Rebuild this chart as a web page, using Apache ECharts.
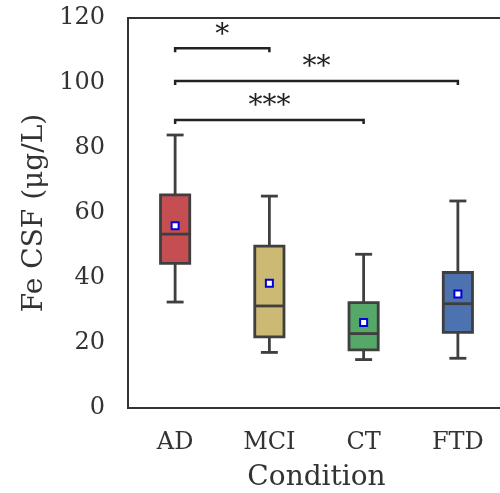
<!DOCTYPE html>
<html>
<head>
<meta charset="utf-8">
<script src="https://cdn.jsdelivr.net/npm/echarts@6/dist/echarts.min.js"></script>
<style>
  html, body { margin: 0; padding: 0; background: #fff; }
  #box { width: 500px; height: 493px; }
</style>
</head>
<body>
<div id="box"></div>
<script>
// data
var conditions = ['AD', 'MCI', 'CT', 'FTD'];
var whiskerLow = [32.6, 17.1, 14.9, 15.3];
var q1 = [44.5, 21.9, 17.9, 23.3];
var median = [53.5, 31.4, 22.9, 32.1];
var q3 = [65.6, 49.8, 32.4, 41.7];
var whiskerHigh = [84.0, 65.2, 47.3, 63.7];
var means = [56.1, 38.4, 26.3, 35.1];
var boxColors = ['#C44E52', '#CCB974', '#55A868', '#4C72B0'];

// significance brackets: from, to, height, stars
var bracketFrom = [0, 0, 0];
var bracketTo = [1, 3, 2];
var bracketY = [110.7, 100.6, 88.6];
var bracketText = ['*', '**', '***'];

var yTicks = [0, 20, 40, 60, 80, 100, 120];

var serif = 'DejaVu Serif';
var edge = '#3f3f3f';

var boxData = conditions.map(function(c, i) {
    return [i, whiskerLow[i], q1[i], median[i], q3[i], whiskerHigh[i]];
});
var meanData = conditions.map(function(c, i) { return [i, means[i]]; });
var bracketData = bracketY.map(function(y, i) {
    return [bracketFrom[i], bracketTo[i], y, bracketText[i]];
});

var dom = document.getElementById('box');
var chart = echarts.init(dom);

var option = {
    animation: false,
    grid: {
        left: 128, top: 18, width: 377, height: 390,
        outerBoundsMode: 'none',
        show: true, borderColor: '#333', borderWidth: 2, backgroundColor: '#fff'
    },
    xAxis: {
        type: 'category',
        data: conditions,
        axisLine: { lineStyle: { color: '#333', width: 2 } },
        axisTick: { show: false },
        axisLabel: { fontFamily: serif, fontSize: 24, color: '#333', margin: 23 },
        name: 'Condition',
        nameLocation: 'middle',
        nameGap: 56,
        nameTextStyle: { fontFamily: serif, fontSize: 28, color: '#333' }
    },
    yAxis: {
        type: 'value',
        min: yTicks[0], max: yTicks[yTicks.length - 1], interval: 20,
        splitLine: { show: false },
        axisLine: { show: true, lineStyle: { color: '#333', width: 2 } },
        axisTick: { show: false },
        axisLabel: { fontFamily: serif, fontSize: 24, color: '#333', margin: 23 },
        name: 'Fe CSF (μg/L)',
        nameLocation: 'middle',
        nameGap: 79,
        nameTextStyle: { fontFamily: serif, fontSize: 28, color: '#333' }
    },
    series: [
        {
            type: 'custom',
            data: boxData,
            renderItem: function(params, api) {
                var i = api.value(0);
                var band = api.size([1, 0])[0];
                var half = band * 0.155;
                var cap = band * 0.09;
                var lo = api.coord([i, api.value(1)]);
                var b1 = api.coord([i, api.value(2)]);
                var md = api.coord([i, api.value(3)]);
                var b3 = api.coord([i, api.value(4)]);
                var hi = api.coord([i, api.value(5)]);
                var x = lo[0];
                var ls = { stroke: edge, lineWidth: 2.8 };
                return {
                    type: 'group',
                    children: [
                        { type: 'line', shape: { x1: x, y1: hi[1], x2: x, y2: b3[1] }, style: ls },
                        { type: 'line', shape: { x1: x, y1: b1[1], x2: x, y2: lo[1] }, style: ls },
                        { type: 'line', shape: { x1: x - cap, y1: hi[1], x2: x + cap, y2: hi[1] }, style: ls },
                        { type: 'line', shape: { x1: x - cap, y1: lo[1], x2: x + cap, y2: lo[1] }, style: ls },
                        { type: 'rect', shape: { x: x - half, y: b3[1], width: half * 2, height: b1[1] - b3[1] },
                          style: { fill: boxColors[i], stroke: edge, lineWidth: 2.8 } },
                        { type: 'line', shape: { x1: x - half, y1: md[1], x2: x + half, y2: md[1] }, style: ls }
                    ]
                };
            },
            z: 2
        },
        {
            type: 'scatter',
            data: meanData,
            symbol: 'rect',
            symbolSize: 7,
            itemStyle: { color: '#fff', borderColor: '#0000dd', borderWidth: 2, opacity: 1 },
            z: 5
        },
        {
            type: 'custom',
            data: bracketData,
            renderItem: function(params, api) {
                var a = api.coord([api.value(0), api.value(2)]);
                var b = api.coord([api.value(1), api.value(2)]);
                return {
                    type: 'group',
                    children: [
                        { type: 'polyline', shape: { points: [[a[0], a[1] + 4], [a[0], a[1]], [b[0], b[1]], [b[0], b[1] + 4]] },
                          style: { stroke: '#222', lineWidth: 2.5, fill: null } },
                        { type: 'text', x: (a[0] + b[0]) / 2, y: a[1] + 1,
                          style: { text: bracketData[params.dataIndex][3], fontFamily: serif, fontSize: 28,
                                   fill: '#222', align: 'center', verticalAlign: 'bottom' } }
                    ]
                };
            },
            z: 3
        }
    ]
};

chart.setOption(option);
window.onresize = chart.resize;
</script>
</body>
</html>
